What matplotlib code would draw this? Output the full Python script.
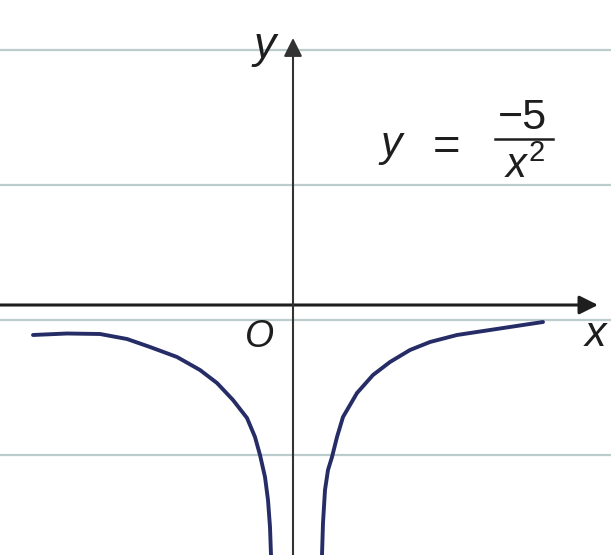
import matplotlib
matplotlib.use("Agg")
import matplotlib.pyplot as plt

# Sketch of y = -5/x^2 on ruled paper, points traced along each branch
left_x = [-5.20, -4.52, -3.86, -3.32, -2.86, -2.32, -1.86, -1.52, -1.20,
          -0.92, -0.76, -0.66, -0.56, -0.50, -0.46, -0.44]
left_y = [-0.60, -0.57, -0.58, -0.68, -0.84, -1.04, -1.30, -1.56, -1.90,
          -2.26, -2.64, -3.00, -3.44, -3.90, -4.44, -5.00]

right_x = [0.58, 0.60, 0.64, 0.70, 0.78, 0.88, 1.00, 1.28, 1.60, 1.94,
           2.34, 2.74, 3.28, 3.94, 4.60, 5.00]
right_y = [-5.00, -4.36, -3.70, -3.30, -3.04, -2.64, -2.24, -1.76, -1.40,
           -1.14, -0.90, -0.74, -0.60, -0.50, -0.40, -0.34]

rule_lines = [5.1, 2.4, -0.3, -3.0]

plt.rcParams['font.family'] = ['Liberation Sans', 'DejaVu Sans']
plt.rcParams['mathtext.fontset'] = 'custom'
plt.rcParams['mathtext.it'] = 'Liberation Sans:italic'
plt.rcParams['mathtext.rm'] = 'Liberation Sans'

fig = plt.figure(figsize=(6.11, 5.55), dpi=100)
ax = fig.add_axes([0, 0, 1, 1])
ax.set_xlim(-5.86, 6.36)
ax.set_ylim(-5.0, 6.1)
ax.axis('off')

# ruled paper lines
for yr in rule_lines:
    ax.axhline(yr, color='#bccccd', lw=1.6, zorder=1)

ink = '#1e1e1e'
# x axis with arrow
ax.annotate('', xy=(6.1, 0), xytext=(-5.9, 0),
            arrowprops=dict(arrowstyle='-|>', color=ink, lw=2.2,
                            mutation_scale=28, shrinkA=0, shrinkB=0),
            zorder=3)
# y axis with arrow
ax.annotate('', xy=(0, 5.34), xytext=(0, -5.1),
            arrowprops=dict(arrowstyle='-|>', color='#333333', lw=1.5,
                            mutation_scale=28, shrinkA=0, shrinkB=0),
            zorder=3)

curve_color = '#262d66'
for bx, by in [(left_x, left_y), (right_x, right_y)]:
    ax.plot(bx, by, color=curve_color, lw=2.8, solid_capstyle='round',
            solid_joinstyle='round', zorder=4)

txt = dict(color=ink, style='italic', ha='center', va='center', zorder=5)
ax.text(-0.56, 5.16, 'y', fontsize=32, **txt)
ax.text(-0.66, -0.64, 'O', fontsize=27, **txt)
ax.text(6.04, -0.60, 'x', fontsize=31, **txt)

# equation label
ax.text(1.96, 3.2, 'y', fontsize=31, **txt)
ax.text(3.08, 3.14, '=', fontsize=34, color=ink, ha='center', va='center')
ax.text(4.58, 3.74, '\u22125', fontsize=31, color=ink, ha='center', va='center')
ax.plot([4.04, 5.2], [3.32, 3.32], color=ink, lw=1.8)
ax.text(4.64, 2.76, r'$x^2$', fontsize=30, color=ink, ha='center', va='center')

fig.savefig('out.png', dpi=100)
